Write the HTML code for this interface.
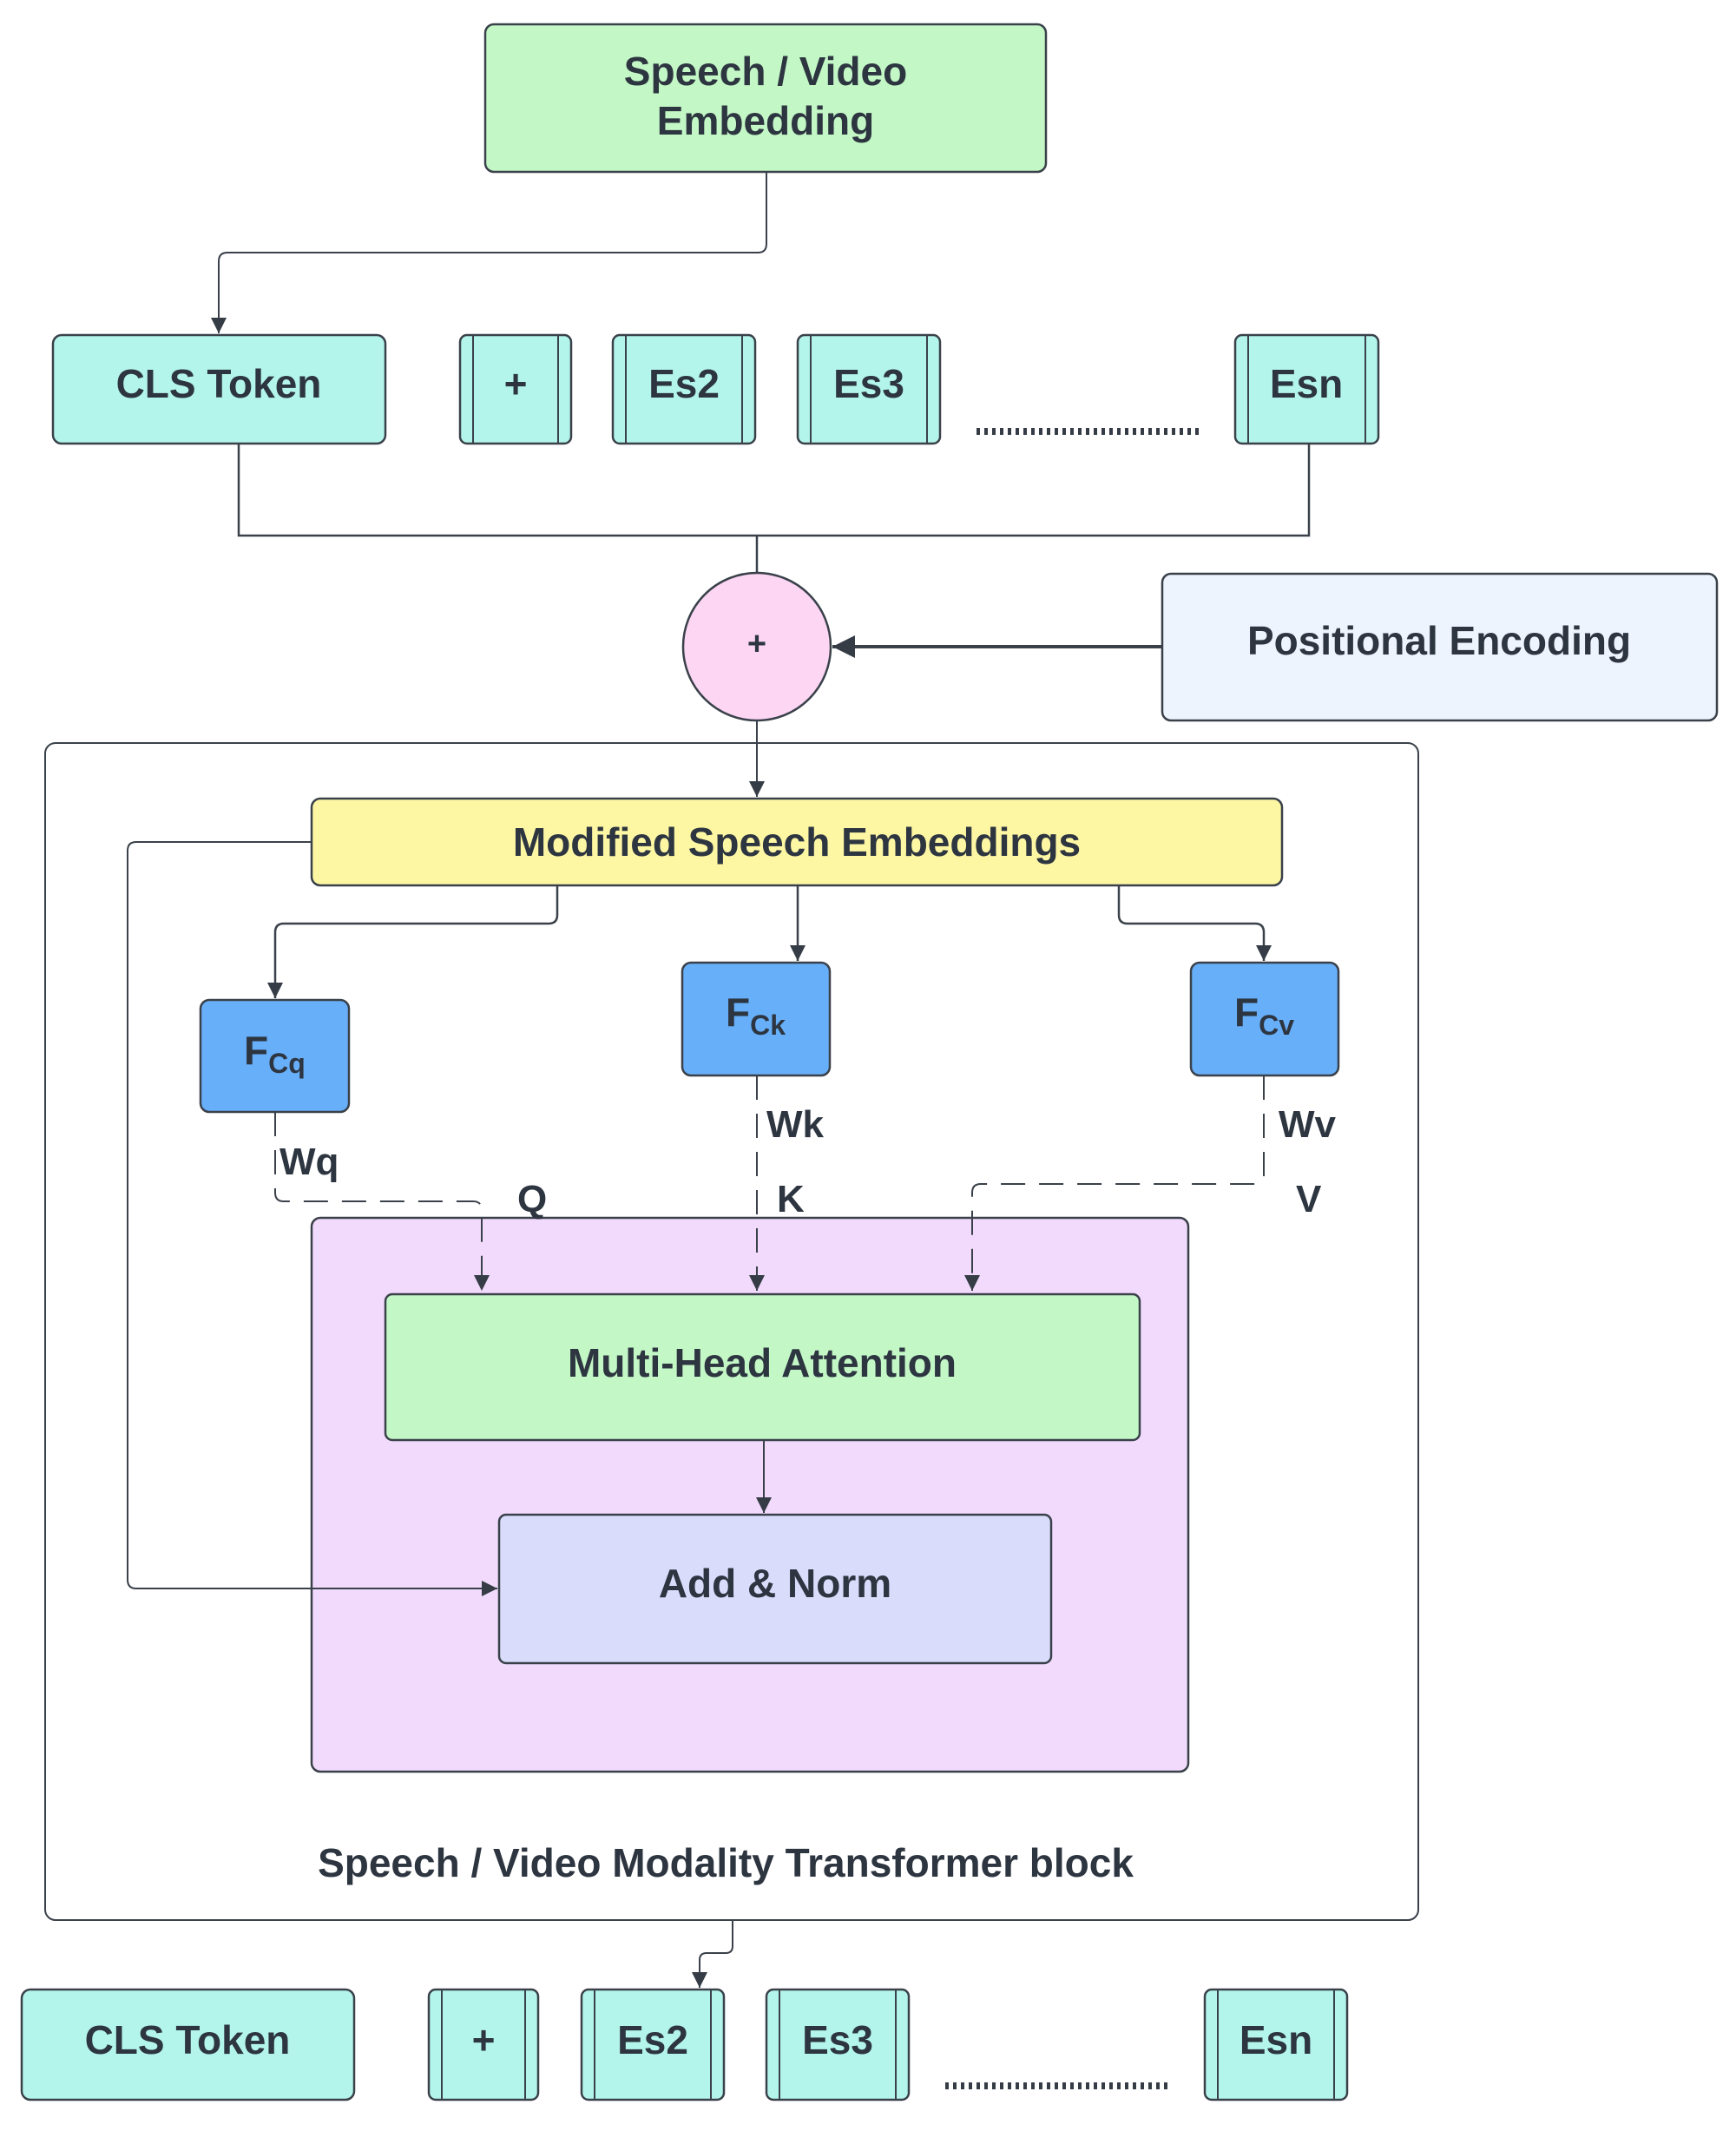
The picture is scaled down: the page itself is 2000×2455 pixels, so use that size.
<!DOCTYPE html>
<html><head><style>
html,body{margin:0;padding:0;background:#fff;}
svg{display:block;}
text{font-family:"Liberation Sans",Arial,sans-serif;font-weight:bold;fill:#2d3540;}
</style></head><body>
<svg width="2000" height="2455" viewBox="0 0 2000 2455" xmlns="http://www.w3.org/2000/svg">
<defs>
<marker id="a" viewBox="0 0 10 10" refX="10" refY="5" markerWidth="12" markerHeight="10" markerUnits="userSpaceOnUse" orient="auto"><path d="M0,0 L10,5 L0,10 z" fill="#353c45"/></marker>
<marker id="c" viewBox="0 0 10 10" refX="10" refY="5" markerWidth="34" markerHeight="18" markerUnits="userSpaceOnUse" orient="auto"><path d="M0,0 L10,5 L0,10 z" fill="#353c45"/></marker>
<marker id="b" viewBox="0 0 10 10" refX="10" refY="5" markerWidth="36" markerHeight="26" markerUnits="userSpaceOnUse" orient="auto"><path d="M0,0 L10,5 L0,10 z" fill="#353c45"/></marker>
</defs>
<g stroke="#3a414a" stroke-width="2.5">
<rect x="559" y="28" width="646" height="170" rx="10" fill="#c3f7c6"/>
<rect x="61" y="386" width="383" height="125" rx="10" fill="#b3f5ea"/>
<rect x="530" y="386" width="128" height="125" rx="8" fill="#b3f5ea"/>
<rect x="706" y="386" width="164" height="125" rx="8" fill="#b3f5ea"/>
<rect x="919" y="386" width="164" height="125" rx="8" fill="#b3f5ea"/>
<rect x="1423" y="386" width="165" height="125" rx="8" fill="#b3f5ea"/>
<path d="M545 386V511M643 386V511M721 386V511M855 386V511M934 386V511M1068 386V511M1438 386V511M1573 386V511" stroke-width="2"/>
<path d="M883 198V281Q883 291 873 291H262Q252 291 252 301V384" fill="none" stroke-width="2" marker-end="url(#c)"/>
<path d="M275 511V617H1508V511M872 617V660" fill="none" stroke-width="2.5"/>
<ellipse cx="872" cy="745" rx="85" ry="85" fill="#fcd6f3"/>
<rect x="1339" y="661" width="639" height="169" rx="10" fill="#edf4fe"/>
<path d="M1339 745H959" stroke-width="4" marker-end="url(#b)"/>
<rect x="52" y="856" width="1582" height="1356" rx="12" fill="#fff" stroke-width="2"/>
<path d="M872 830V918" stroke-width="2" marker-end="url(#c)"/>
<rect x="359" y="920" width="1118" height="100" rx="10" fill="#fdf7a4"/>
<path d="M642 1020V1054Q642 1064 632 1064H327Q317 1064 317 1074V1150" fill="none" stroke-width="2.5" marker-end="url(#c)"/>
<path d="M919 1020V1107" stroke-width="2.5" marker-end="url(#c)"/>
<path d="M1289 1020V1054Q1289 1064 1299 1064H1446Q1456 1064 1456 1074V1107" fill="none" stroke-width="2.5" marker-end="url(#c)"/>
<rect x="231" y="1152" width="171" height="129" rx="10" fill="#67aff9"/>
<rect x="786" y="1109" width="170" height="130" rx="10" fill="#67aff9"/>
<rect x="1372" y="1109" width="170" height="130" rx="10" fill="#67aff9"/>
<rect x="359" y="1403" width="1010" height="638" rx="10" fill="#f1dafc"/>
<path d="M359 970H157Q147 970 147 980V1820Q147 1830 157 1830H573" fill="none" stroke-width="2" marker-end="url(#c)"/>
<g fill="none" stroke-width="2" stroke-dasharray="28,16">
<path d="M317 1281V1374Q317 1384 327 1384H545Q555 1384 555 1394V1487" marker-end="url(#c)"/>
<path d="M872 1239V1487" marker-end="url(#c)"/>
<path d="M1456 1239V1354Q1456 1364 1446 1364H1130Q1120 1364 1120 1374V1487" marker-end="url(#c)"/>
</g>
<rect x="444" y="1491" width="869" height="168" rx="8" fill="#c3f7c6"/>
<path d="M880 1659V1743" stroke-width="2" marker-end="url(#c)"/>
<rect x="575" y="1745" width="636" height="171" rx="8" fill="#dadcfc"/>
<path d="M844 2212V2242Q844 2250 836 2250H814Q806 2250 806 2258V2290" fill="none" stroke-width="2" marker-end="url(#c)"/>
<rect x="25" y="2292" width="383" height="127" rx="10" fill="#b3f5ea"/>
<rect x="494" y="2292" width="126" height="127" rx="8" fill="#b3f5ea"/>
<rect x="670" y="2292" width="164" height="127" rx="8" fill="#b3f5ea"/>
<rect x="883" y="2292" width="164" height="127" rx="8" fill="#b3f5ea"/>
<rect x="1388" y="2292" width="164" height="127" rx="8" fill="#b3f5ea"/>
<path d="M509 2292V2419M605 2292V2419M685 2292V2419M819 2292V2419M898 2292V2419M1032 2292V2419M1403 2292V2419M1537 2292V2419" stroke-width="2"/>
</g>
<g stroke="#353c45" stroke-width="8" stroke-dasharray="4,5">
<path d="M1125 497H1383"/>
<path d="M1089 2403H1347"/>
</g>
<g text-anchor="middle" font-size="46">
<text x="882" y="98">Speech / Video</text>
<text x="882" y="155">Embedding</text>
<text x="252" y="458">CLS Token</text>
<text x="594" y="458">+</text>
<text x="788" y="458">Es2</text>
<text x="1001" y="458">Es3</text>
<text x="1505" y="458">Esn</text>
<text x="872" y="754" font-size="38">+</text>
<text x="1658" y="754">Positional Encoding</text>
<text x="918" y="986">Modified Speech Embeddings</text>
<text x="878" y="1586">Multi-Head Attention</text>
<text x="893" y="1840">Add &amp; Norm</text>
<text x="836" y="2162">Speech / Video Modality Transformer block</text>
<text x="216" y="2366">CLS Token</text>
<text x="557" y="2366">+</text>
<text x="752" y="2366">Es2</text>
<text x="965" y="2366">Es3</text>
<text x="1470" y="2366">Esn</text>
</g>
<g font-size="46">
<text x="281" y="1226">F<tspan font-size="32" dy="10">Cq</tspan></text>
<text x="836" y="1182">F<tspan font-size="32" dy="10">Ck</tspan></text>
<text x="1422" y="1182">F<tspan font-size="32" dy="10">Cv</tspan></text>
<text x="322" y="1353" font-size="44">Wq</text>
<text x="883" y="1310" font-size="44">Wk</text>
<text x="1473" y="1310" font-size="44">Wv</text>
<text x="596" y="1396" font-size="44">Q</text>
<text x="895" y="1396" font-size="44">K</text>
<text x="1493" y="1396" font-size="44">V</text>
</g>
</svg>
</body></html>
